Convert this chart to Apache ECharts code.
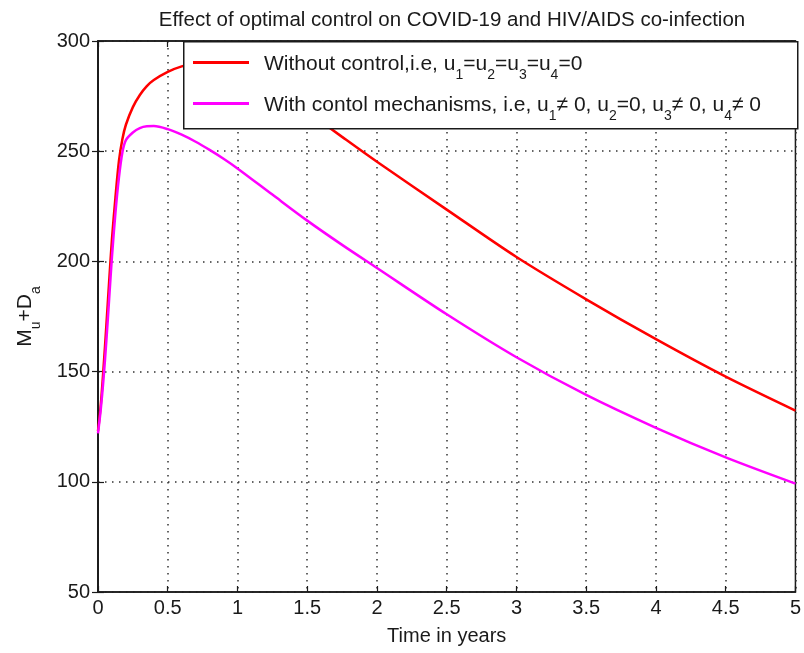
<!DOCTYPE html>
<html>
<head>
<meta charset="utf-8">
<script src="https://cdn.jsdelivr.net/npm/echarts@6/dist/echarts.min.js"></script>
<style>html,body{margin:0;padding:0;background:#fff}#c{width:804px;height:653px}</style>
</head>
<body>
<div id="c"></div>
<script>
const time = [0, 0.02, 0.04, 0.06, 0.08, 0.1, 0.125, 0.15, 0.175, 0.2, 0.25, 0.3, 0.35, 0.4, 0.5, 0.6, 0.7, 0.8, 0.9, 1.0, 1.25, 1.5, 1.75, 2, 2.5, 3, 3.5, 4, 4.5, 5];
const withoutControl = [123, 135, 152, 171, 191, 210, 229, 245.5, 255.5, 262, 270, 275.5, 279.5, 282.3, 286, 288.5, 289.8, 290.3, 290, 287.5, 279.5, 268, 256.5, 245.2, 223.5, 202, 182.8, 164.7, 147.7, 132.3];
const withControl = [122, 133, 147, 164, 183, 202, 222, 238, 249.5, 255, 258.5, 260.5, 261.3, 261.4, 260, 257.5, 254.3, 250.6, 246.6, 242.2, 230.3, 218.5, 207.5, 197, 176, 156.5, 139.4, 124.5, 111.1, 99.2];
const xTicks = [0, 0.5, 1, 1.5, 2, 2.5, 3, 3.5, 4, 4.5, 5];
const yTicks = [50, 100, 150, 200, 250, 300];
const seriesNames = ['Without control,i.e, u1=u2=u3=u4=0', 'With contol mechanisms, i.e, u1≠ 0, u2=0, u3≠ 0, u4≠ 0'];

const FONT = "'Liberation Sans', Arial, sans-serif";
const TXT = '#1a1a1a';
const pairs = (ys) => time.map((t, i) => [t, ys[i]]);
const subRich = (size) => ({
  g: { width: 10, fontSize: size, lineHeight: size + 4 },
  n: { fontFamily: FONT, fontSize: size, color: TXT, lineHeight: size + 4, verticalAlign: 'bottom' },
  s: { fontFamily: FONT, fontSize: Math.round(size * 0.68), color: TXT, lineHeight: size + 4, verticalAlign: 'bottom', padding: [0, 0, -7, 0] }
});
function toRich(str) {
  let out = '{g| }';
  const re = /u(\d)/g;
  let last = 0, m;
  while ((m = re.exec(str)) !== null) {
    if (m.index > last) out += '{n|' + str.slice(last, m.index) + '}';
    out += '{n|u}{s|' + m[1] + '}';
    last = re.lastIndex;
  }
  if (last < str.length) out += '{n|' + str.slice(last) + '}';
  return out;
}

const chart = echarts.init(document.getElementById('c'), null, { renderer: 'canvas' });
const gridLine = { show: true, lineStyle: { color: '#333', type: [1.5, 5.5], width: 1.5 } };
const frameTick = { show: true, inside: true, length: 6, lineStyle: { color: TXT, width: 1.2 } };
chart.setOption({
  backgroundColor: '#fff',
  animation: false,
  title: {
    text: 'Effect of optimal control on COVID-19 and HIV/AIDS co-infection',
    left: 447, top: 5, textAlign: 'center',
    textStyle: { fontFamily: FONT, fontSize: 20.5, fontWeight: 'normal', color: TXT }
  },
  grid: { left: 98, right: 7, top: 41, bottom: 61, show: true, borderColor: TXT, borderWidth: 1.5, backgroundColor: 'transparent' },
  graphic: [{
    type: 'rect', z: 50, left: 183, top: 41,
    shape: { width: 614, height: 87 },
    style: { fill: '#fff', stroke: TXT, lineWidth: 1.5 }
  }],
  legend: {
    left: 193, top: 52, z: 60,
    orient: 'vertical',
    padding: 0,
    itemGap: 11,
    itemWidth: 56, itemHeight: 3, icon: 'rect',
    textStyle: { rich: subRich(21), fontFamily: FONT, fontSize: 21, color: TXT },
    formatter: (name) => toRich(name),
    data: seriesNames
  },
  xAxis: [{
    type: 'value', min: 0, max: 5, interval: 0.5,
    name: 'Time in years', nameLocation: 'middle', nameGap: 34,
    nameTextStyle: { fontFamily: FONT, fontSize: 20, color: TXT },
    axisLine: { show: true, lineStyle: { color: TXT, width: 1.5 } },
    axisTick: frameTick,
    axisLabel: { fontFamily: FONT, fontSize: 20, color: TXT, margin: 6, formatter: (v) => String(v) },
    splitLine: gridLine
  }, {
    type: 'value', min: 0, max: 5, interval: 0.5, position: 'top',
    axisLine: { show: true, lineStyle: { color: TXT, width: 1.5 } },
    axisTick: frameTick,
    axisLabel: { show: false }, splitLine: { show: false }
  }],
  yAxis: [{
    type: 'value', min: 50, max: 300, interval: 50,
    name: '{n|M}{s|u}{n|+D}{s|a}', nameLocation: 'middle', nameGap: 62, nameRotate: 90,
    nameTextStyle: { rich: subRich(21) },
    axisLine: { show: true, lineStyle: { color: TXT, width: 1.5 } },
    axisTick: frameTick,
    axisLabel: { fontFamily: FONT, fontSize: 20, color: TXT, margin: 8 },
    splitLine: gridLine
  }, {
    type: 'value', min: 50, max: 300, interval: 50, position: 'right',
    axisLine: { show: true, lineStyle: { color: TXT, width: 1.5 } },
    axisTick: frameTick,
    axisLabel: { show: false }, splitLine: { show: false }
  }],
  series: [{
    name: seriesNames[0], type: 'line', data: pairs(withoutControl), smooth: 0.3,
    showSymbol: false, symbol: 'none', color: '#ff0000', lineStyle: { color: '#ff0000', width: 2.5 }, z: 3
  }, {
    name: seriesNames[1], type: 'line', data: pairs(withControl), smooth: 0.3,
    showSymbol: false, symbol: 'none', color: '#ff00ff', lineStyle: { color: '#ff00ff', width: 2.5 }, z: 4
  }]
});
</script>
</body>
</html>
